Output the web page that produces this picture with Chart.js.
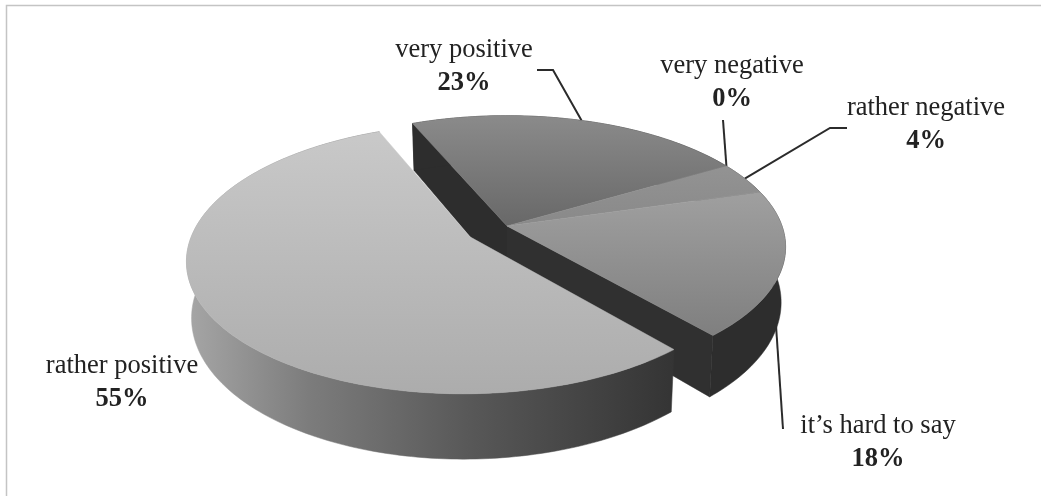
<!DOCTYPE html>
<html><head><meta charset="utf-8">
<style>html,body{margin:0;padding:0;background:#fff}#w{position:absolute;left:0;top:0;width:1041px;height:496px}</style>
<script src="https://cdn.jsdelivr.net/npm/chart.js@4"></script>
</head><body><div id="w"><canvas id="c" width="1041" height="496"></canvas></div>
<script>
const categories = ['very positive','very negative','rather negative','it\u2019s hard to say','rather positive'];
const values = [23,0,4,18,55];
const percentLabels = ['23%','0%','4%','18%','55%'];

const VIEW = {cx:507, cy:226, rx:275, ry:128, p:0.16, depth:54, baseScale:0.984, rotation:-23.2};
const EXPLODE = [0,0,0,0,0.157];
const FACE = [['#8a8a8a','#686868'],['#8f8f8f','#7f7f7f'],['#939393','#898989'],['#a0a0a0','#7e7e7e'],['#c9c9c9','#acacac']];
const FACE_Y = [[117,226],[160,180],[165,226],[190,340],[130,395]];
const LABELS = [
 {x:464,y:57,lead:[[537,70],[553,70]]},
 {x:732,y:73,lead:[[723,120]]},
 {x:926,y:115,lead:[[847,128],[830,128]]},
 {x:878,y:433,lead:[[783,429]],anchorR:0.96},
 {x:122,y:373,lead:null}
];

function project(u,v,base){
  const w=1-VIEW.p*v;
  let X=VIEW.rx*u/w, Y=VIEW.ry*v/w;
  if(base){X*=VIEW.baseScale; Y+=VIEW.depth/w;}
  return [VIEW.cx+X, VIEW.cy+Y];
}
function arcPts(a0,a1,off,base){
  const n=Math.max(2,Math.ceil(Math.abs(a1-a0)/0.02)),pts=[];
  for(let i=0;i<=n;i++){const a=a0+(a1-a0)*i/n;pts.push(project(off[0]+Math.cos(a),off[1]+Math.sin(a),base));}
  return pts;
}
function fillPoly(ctx,pts,style){
  ctx.beginPath();pts.forEach((p,i)=>i?ctx.lineTo(p[0],p[1]):ctx.moveTo(p[0],p[1]));ctx.closePath();
  ctx.fillStyle=style;ctx.fill();ctx.strokeStyle=style;ctx.lineWidth=0.5;ctx.stroke();
}
const pie3d={
  id:'pie3d',
  beforeDatasetsDraw(chart){
    const ctx=chart.ctx, arcs=chart.getDatasetMeta(0).data;
    const s=arcs.map((el,i)=>{
      const mid=(el.startAngle+el.endAngle)/2,e=EXPLODE[i];
      return {a0:el.startAngle,a1:el.endAngle,mid,off:[e*Math.cos(mid),e*Math.sin(mid)]};
    });
    ctx.save();
    ctx.strokeStyle='#2b2b2b';ctx.lineWidth=2;
    LABELS.forEach((l,i)=>{
      if(!l.lead)return;
      const r=l.anchorR||1, a=(i===1)?s[i].a0:s[i].mid;
      const st=project(r*Math.cos(a),r*Math.sin(a),false);
      ctx.beginPath();ctx.moveTo(st[0],st[1]);
      [...l.lead].reverse().forEach(q=>ctx.lineTo(q[0],q[1]));ctx.stroke();
    });
    const dark='#2d2d2d',main=s.slice(0,4);
    const ws=main[0].a0, we=main[3].a1;
    const pt=(a)=>[Math.cos(a),Math.sin(a)];
    fillPoly(ctx,[project(0,0),project(...pt(ws)),project(...pt(ws),true),project(0,0,true)],dark);
    fillPoly(ctx,[project(0,0),project(...pt(we)),project(...pt(we),true),project(0,0,true)],'#303030');
    fillPoly(ctx,[...arcPts(ws,we,[0,0],false),...arcPts(we,ws,[0,0],true)],dark);
    main.forEach((d,i)=>{
      if(d.a1-d.a0<1e-6)return;
      const g=ctx.createLinearGradient(0,FACE_Y[i][0],0,FACE_Y[i][1]);
      g.addColorStop(0,FACE[i][0]);g.addColorStop(1,FACE[i][1]);
      fillPoly(ctx,[project(0,0),...arcPts(d.a0,d.a1,[0,0],false)],g);
    });
    const d=s[4];
    const wg=ctx.createLinearGradient(187,0,675,0);
    wg.addColorStop(0,'#a6a6a6');wg.addColorStop(0.25,'#7c7c7c');wg.addColorStop(0.58,'#585858');wg.addColorStop(1,'#343434');
    fillPoly(ctx,[...arcPts(d.a0,d.a1,d.off,false),...arcPts(d.a1,d.a0,d.off,true)],wg);
    const g=ctx.createLinearGradient(0,FACE_Y[4][0],0,FACE_Y[4][1]);
    g.addColorStop(0,FACE[4][0]);g.addColorStop(1,FACE[4][1]);
    fillPoly(ctx,[project(d.off[0],d.off[1]),...arcPts(d.a0,d.a1,d.off,false)],g);
    ctx.fillStyle='#222222';ctx.textAlign='center';ctx.textBaseline='alphabetic';
    LABELS.forEach((l,i)=>{
      ctx.font='26.5px "Liberation Serif"';ctx.fillText(categories[i],l.x,l.y);
      ctx.font='bold 26.5px "Liberation Serif"';ctx.fillText(percentLabels[i],l.x,l.y+33);
    });
    ctx.restore();
  },
  beforeDatasetDraw(){return false;}
};
const frame={id:'frame',beforeDraw(chart){const c=chart.ctx;c.save();c.strokeStyle='#c4c4c4';c.lineWidth=1.5;c.beginPath();c.moveTo(6.5,496);c.lineTo(6.5,5.5);c.lineTo(1041,5.5);c.stroke();c.restore();}};
new Chart(document.getElementById('c'),{
  type:'pie',
  data:{labels:categories,datasets:[{data:values,backgroundColor:FACE.map(f=>f[0]),borderWidth:0}]},
  options:{responsive:false,animation:false,rotation:VIEW.rotation,
    plugins:{legend:{display:false},tooltip:{enabled:false}}},
  plugins:[frame,pie3d]
});
</script></body></html>
